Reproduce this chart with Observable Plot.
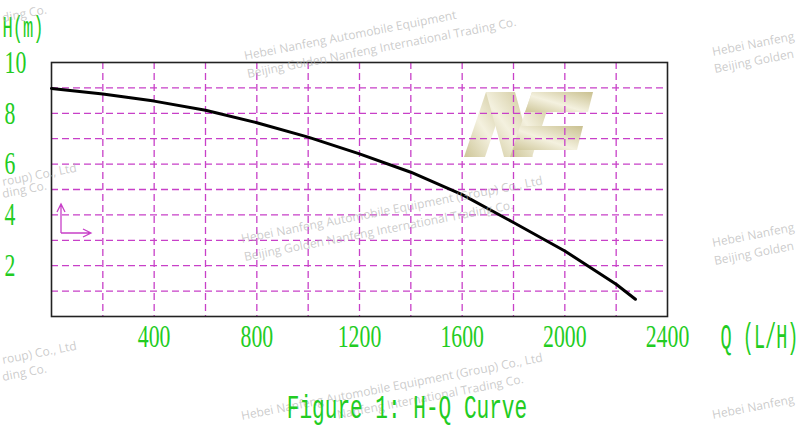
<!DOCTYPE html>
<html>
<head>
<meta charset="utf-8">
<script src="https://cdn.jsdelivr.net/npm/d3@7"></script>
<script src="https://cdn.jsdelivr.net/npm/@observablehq/plot@0.6"></script>
<style>
  html, body { margin: 0; padding: 0; background: #fff; }
  body { width: 800px; height: 428px; overflow: hidden; position: relative; }
  #logo { position: absolute; left: 0; top: 0; }
  #chart { position: absolute; left: 0; top: 0; }
  #chart svg { background: transparent !important; }
  #deco { position: absolute; left: 0; top: 0; pointer-events: none; }
  #caption {
    position: absolute; left: 7px; top: 392px; width: 800px; text-align: center;
    font-family: "Liberation Mono", monospace; font-size: 34px; line-height: 1;
    color: #22cc22; transform: scaleX(0.62); transform-origin: 50% 50%; white-space: pre;
  }
</style>
</head>
<body>
<svg id="logo" width="800" height="428">
  <defs>
    <linearGradient id="lg" x1="0" y1="1" x2="1" y2="0">
      <stop offset="0" stop-color="#cdc597"/>
      <stop offset="0.45" stop-color="#f4f1df"/>
      <stop offset="1" stop-color="#c9c08f"/>
    </linearGradient>
  </defs>
  <g fill="url(#lg)">
    <polygon points="464,157 486,92 507,92 485,157"/>
    <polygon points="486,92 515,92 533,157 504,157"/>
    <polygon points="510,157 532,92 553,92 532,157"/>
    <polygon points="532,92 593,92 588,112 525,112"/>
    <polygon points="520,126 583,126 577,150 513,150"/>
  </g>
</svg>
<div id="chart"></div>
<svg id="deco" width="800" height="428">
  <g stroke="#c840c8" stroke-width="1.3" fill="none">
    <path d="M61,233 L61,204 M57,212 L61,204 L65,212"/>
    <path d="M61,233 L91,233 M83,229 L91,233 L83,237"/>
  </g>
  <g id="wm" font-family="Open Sans, sans-serif" font-size="12" fill="rgb(175,175,175)" fill-opacity="0.65"></g>
</svg>
<div id="caption"></div>
<script>
// ---- data ----
const flowQ = [0, 200, 400, 600, 800, 1000, 1200, 1400, 1600, 1800, 2000, 2200, 2275];
const headH = [8.98, 8.76, 8.48, 8.12, 7.63, 7.06, 6.40, 5.68, 4.80, 3.70, 2.58, 1.27, 0.68];
const gridQ = [200, 400, 600, 800, 1000, 1200, 1400, 1600, 1800, 2000, 2200];
const gridH = [1, 2, 3, 4, 5, 6, 7, 8, 9];
const xTicks = [400, 800, 1200, 1600, 2000, 2400];
const yTicks = [2, 4, 6, 8, 10];
const xLabel = "Q (L/H)";
const yLabel = "H(m)";
const captionText = "Figure 1: H-Q Curve";
// watermark fragments as they are visible in the picture
const wmTexts = [
  "ding Co.",
  "Hebei Nanfeng Automobile Equipment",
  "Beijing Golden Nanfeng International Trading Co.",
  "Hebei Nanfeng",
  "Beijing Golden",
  "roup) Co., Ltd",
  "ding Co.",
  "Hebei Nanfeng Automobile Equipment (Group) Co., Ltd",
  "Beijing Golden Nanfeng International Trading Co.",
  "Hebei Nanfeng",
  "Beijing Golden",
  "roup) Co., Ltd",
  "ding Co.",
  "Hebei Nanfeng Automobile Equipment (Group) Co., Ltd",
  "Nanfeng International Trading Co.",
  "Hebei Nanfeng"
];
const wmX = [3, 245, 248, 713, 715, 3, 3, 242, 245, 713, 715, 3, 3, 242, 338, 713];
const wmY = [22, 60, 78, 56, 73, 186, 198, 243, 261, 247, 265, 364, 381, 420, 419, 419];

const green = "#22cc22";
const magenta = "#c840c8";
const curve = flowQ.map((q, i) => ({q, h: headH[i]}));

const plot = Plot.plot({
  width: 800,
  height: 380,
  marginLeft: 51,
  marginRight: 133,
  marginTop: 62,
  marginBottom: 64,
  style: {background: "transparent", overflow: "visible"},
  x: {domain: [0, 2400]},
  y: {domain: [0, 10]},
  marks: [
    Plot.ruleX(gridQ, {stroke: magenta, strokeWidth: 1.3, strokeDasharray: "7,4"}),
    Plot.ruleY(gridH, {stroke: magenta, strokeWidth: 1.3, strokeDasharray: "7,4"}),
    Plot.frame({stroke: "#222", strokeWidth: 1.6}),
    Plot.line(curve, {x: "q", y: "h", stroke: "#000", strokeWidth: 3}),
    Plot.axisX({ticks: xTicks, tickFormat: d => String(d), tickSize: 0, tickPadding: 8, fontSize: 32, fontFamily: "Liberation Serif", color: green, label: null}),
    Plot.axisY({ticks: yTicks, tickFormat: d => String(d), tickSize: 0, tickPadding: 0, textAnchor: "start", dx: -47, fontSize: 32, fontFamily: "Liberation Serif", color: green, label: null}),
    Plot.text([yLabel], {text: d => d, frameAnchor: "top-left", dx: -49, dy: -35, textAnchor: "start", lineAnchor: "middle", fontSize: 30, fontFamily: "Liberation Mono", fill: green}),
    Plot.text([xLabel], {text: d => d, frameAnchor: "bottom-right", dx: 53, dy: 20, textAnchor: "start", lineAnchor: "middle", fontSize: 35, fontFamily: "Liberation Mono", fill: green})
  ]
});
document.getElementById("chart").appendChild(plot);

function squeeze(el, s) {
  const t = el.getAttribute("transform");
  if (t && /translate/.test(t)) {
    el.setAttribute("transform", t + ` scale(${s},1)`);
  } else {
    const x = +el.getAttribute("x") || 0;
    el.setAttribute("transform", `translate(${x},0) scale(${s},1) translate(${-x},0)` + (t ? " " + t : ""));
  }
}
d3.select(plot).selectAll('[aria-label="x-axis tick label"] text, [aria-label="y-axis tick label"] text').each(function() { squeeze(this, 0.68); });
d3.select(plot).selectAll('[aria-label="text"] text').each(function() {
  const s = this.textContent === yLabel ? 0.57 : 0.53;
  squeeze(this, s);
});

document.getElementById("caption").textContent = captionText;

d3.select("#wm").selectAll("text")
  .data(wmTexts)
  .join("text")
  .attr("transform", (d, i) => `translate(${wmX[i]},${wmY[i]}) rotate(-11)`)
  .text(d => d);
</script>
</body>
</html>
